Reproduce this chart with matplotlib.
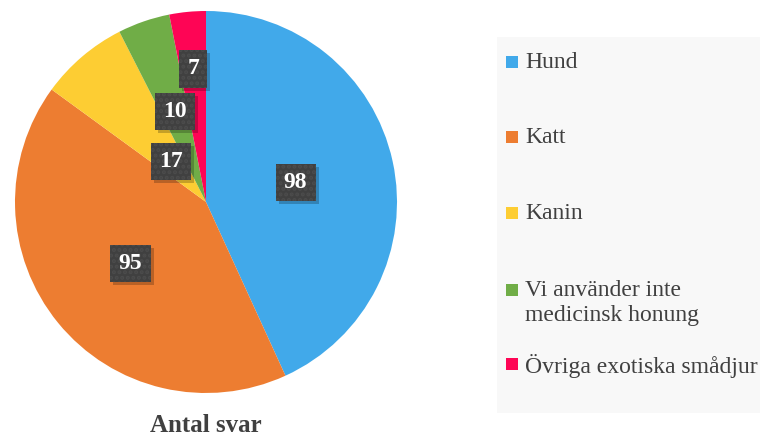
import numpy as np
import matplotlib
matplotlib.use('Agg')
import matplotlib.pyplot as plt
from matplotlib import transforms
from matplotlib.patches import Rectangle

# Data
labels = ['Hund', 'Katt', 'Kanin', 'Vi använder inte\nmedicinsk honung', 'Övriga exotiska smådjur']
values = [98, 95, 17, 10, 7]
colors = ['#41a9ea', '#ed7d31', '#fdcd33', '#70ad47', '#fe0555']
label_dist = [0.48, 0.51, 0.28, 0.50, 0.70]

plt.rcParams['font.family'] = ['Tinos', 'Liberation Serif', 'Noto Serif', 'DejaVu Serif']
plt.rcParams['hatch.linewidth'] = 2.0

W, H = 760, 437
fig = plt.figure(figsize=(W / 100, H / 100), dpi=100)

# pie axes: center (206, 202) px, radius 191 px
cx, cy, R = 206, 202, 191
ax = fig.add_axes([(cx - R) / W, (H - cy - R) / H, 2 * R / W, 2 * R / H])
wedges, _ = ax.pie(values, colors=colors, startangle=90, counterclock=False,
                   radius=1, wedgeprops=dict(linewidth=0))
ax.set_xlim(-1, 1)
ax.set_ylim(-1, 1)
ax.axis('off')

# data labels in dark boxes with a soft shadow
shadow_tr = transforms.offset_copy(ax.transData, fig=fig, x=3, y=-3, units='dots')
for w, v, d in zip(wedges, values, label_dist):
    ang = np.deg2rad((w.theta1 + w.theta2) / 2)
    x, y = d * np.cos(ang), d * np.sin(ang)
    ax.text(x, y, str(v), transform=shadow_tr, ha='center', va='center',
            fontsize=17, fontweight='bold', color='none',
            bbox=dict(boxstyle='square,pad=0.35', facecolor='black', alpha=0.22,
                      edgecolor='none'))
    ax.text(x, y, str(v), ha='center', va='center', fontsize=17,
            fontweight='bold', color='white',
            bbox=dict(boxstyle='square,pad=0.35', facecolor='#404040',
                      edgecolor='#4c4c4c', hatch='...', linewidth=0))

# title
fig.text(cx / W, 1 - 426 / H, 'Antal svar', ha='center', va='center',
         fontsize=18, fontweight='bold', color='#404040')

# legend panel
fig.patches.append(Rectangle((497 / W, 1 - 413 / H), (W - 497) / W, (413 - 37) / H,
                             transform=fig.transFigure, facecolor='#f8f8f8',
                             edgecolor='none', zorder=0))
entry_y = [62, 137, 213, 290, 364]
for lab, col, yy in zip(labels, colors, entry_y):
    fig.patches.append(Rectangle((506 / W, 1 - (yy + 6) / H), 12 / W, 12 / H,
                                 transform=fig.transFigure, facecolor=col,
                                 edgecolor='none', zorder=2))
    fig.text(525 / W, 1 - (yy - 10) / H, lab, ha='left', va='top',
             fontsize=17, color='#404040', linespacing=1.25)

fig.savefig('out.png', dpi=100)
